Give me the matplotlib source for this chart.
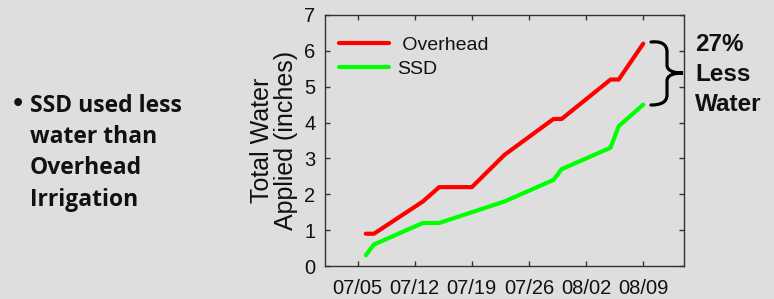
import matplotlib
matplotlib.use("Agg")
import matplotlib.pyplot as plt
import matplotlib.dates as mdates
from matplotlib.path import Path
from matplotlib.patches import PathPatch
import pandas as pd

# ---- data ----
dates = ["2004-07-06", "2004-07-07", "2004-07-13", "2004-07-15", "2004-07-19",
         "2004-07-23", "2004-07-29", "2004-07-30", "2004-08-05", "2004-08-06",
         "2004-08-09"]
overhead = [0.9, 0.9, 1.8, 2.2, 2.2, 3.1, 4.1, 4.1, 5.2, 5.2, 6.2]
ssd = [0.3, 0.6, 1.2, 1.2, 1.5, 1.8, 2.4, 2.7, 3.3, 3.9, 4.5]
series_labels = [" Overhead", "SSD"]
x_ticks = ["2004-07-05", "2004-07-12", "2004-07-19", "2004-07-26", "2004-08-02", "2004-08-09"]
x_limits = ["2004-07-01", "2004-08-14"]
y_ticks = [0, 1, 2, 3, 4, 5, 6, 7]
y_label = "Total Water\nApplied (inches)"
bullet_text = "SSD used less\nwater than\nOverhead\nIrrigation"
side_text = "27%\nLess\nWater"

W, H = 774, 299
bg = "#dedede"
fig = plt.figure(figsize=(W / 100, H / 100), dpi=100, facecolor=bg)
ax = fig.add_axes([325 / W, 1 - 266 / H, (684 - 325) / W, (266 - 15) / H])
ax.set_facecolor(bg)

d = pd.to_datetime(dates)
ax.plot(d, overhead, color="#ff0000", lw=3, solid_capstyle="round",
        solid_joinstyle="round", label=series_labels[0])
ax.plot(d, ssd, color="#00ff00", lw=3, solid_capstyle="round",
        solid_joinstyle="round", label=series_labels[1])

ax.set_xlim(pd.to_datetime(x_limits[0]), pd.to_datetime(x_limits[1]))
ax.set_ylim(0, 7)
ax.set_xticks(pd.to_datetime(x_ticks))
ax.xaxis.set_major_formatter(mdates.DateFormatter("%m/%d"))
ax.set_yticks(y_ticks)

for s in ax.spines.values():
    s.set_color("#333333")
    s.set_linewidth(1.0)
ax.tick_params(direction="in", length=3.5, width=1, color="#333333",
               top=True, right=True, labelsize=14.5, labelcolor="#111111",
               labelfontfamily="Liberation Sans")
ax.tick_params(axis="x", pad=9)
ax.tick_params(axis="y", pad=7)

ax.set_ylabel(y_label, fontsize=18, family="Liberation Sans", color="#111111",
              linespacing=1.0, labelpad=4)

leg = ax.legend(loc="upper left", bbox_to_anchor=(0.0, 1.0), frameon=False,
                prop={"family": "Liberation Sans", "size": 14},
                handlelength=2.6, handletextpad=0.4, labelspacing=0.35,
                borderaxespad=0.5)
leg.set_bbox_to_anchor((-0.01, 0.985), transform=ax.transAxes)
for t in leg.get_texts():
    t.set_color("#111111")

# brace (pixel coords -> figure fraction)
pts = [(651, 42), (661, 41), (667, 44), (667, 52),
       (667, 65),
       (667, 70), (672, 73), (683, 73),
       (672, 73), (667, 76), (667, 81),
       (667, 95),
       (667, 102), (661, 105), (651, 105)]
codes = [Path.MOVETO, Path.CURVE4, Path.CURVE4, Path.CURVE4,
         Path.LINETO,
         Path.CURVE4, Path.CURVE4, Path.CURVE4,
         Path.CURVE4, Path.CURVE4, Path.CURVE4,
         Path.LINETO,
         Path.CURVE4, Path.CURVE4, Path.CURVE4]
verts = [(x / W, 1 - y / H) for x, y in pts]
fig.add_artist(PathPatch(Path(verts, codes), transform=fig.transFigure,
                         facecolor="none", edgecolor="black", lw=2.3,
                         capstyle="round", clip_on=False))

fig.text(695 / W, 1 - 33 / H, side_text, fontsize=17.5, fontweight="bold",
         family="Liberation Sans", va="top", ha="left", linespacing=1.38,
         color="#111111")

fig.text(11 / W, 1 - 94 / H, "\u2022", fontsize=16, fontweight="bold",
         family="DejaVu Sans", va="top", ha="left", color="#111111")
fig.text(30 / W, 1 - 94 / H, bullet_text, fontsize=16.5, fontweight="bold",
         family="Open Sans", va="top", ha="left", linespacing=1.4, color="#111111")

fig.savefig("out.png", dpi=100, facecolor=bg)
